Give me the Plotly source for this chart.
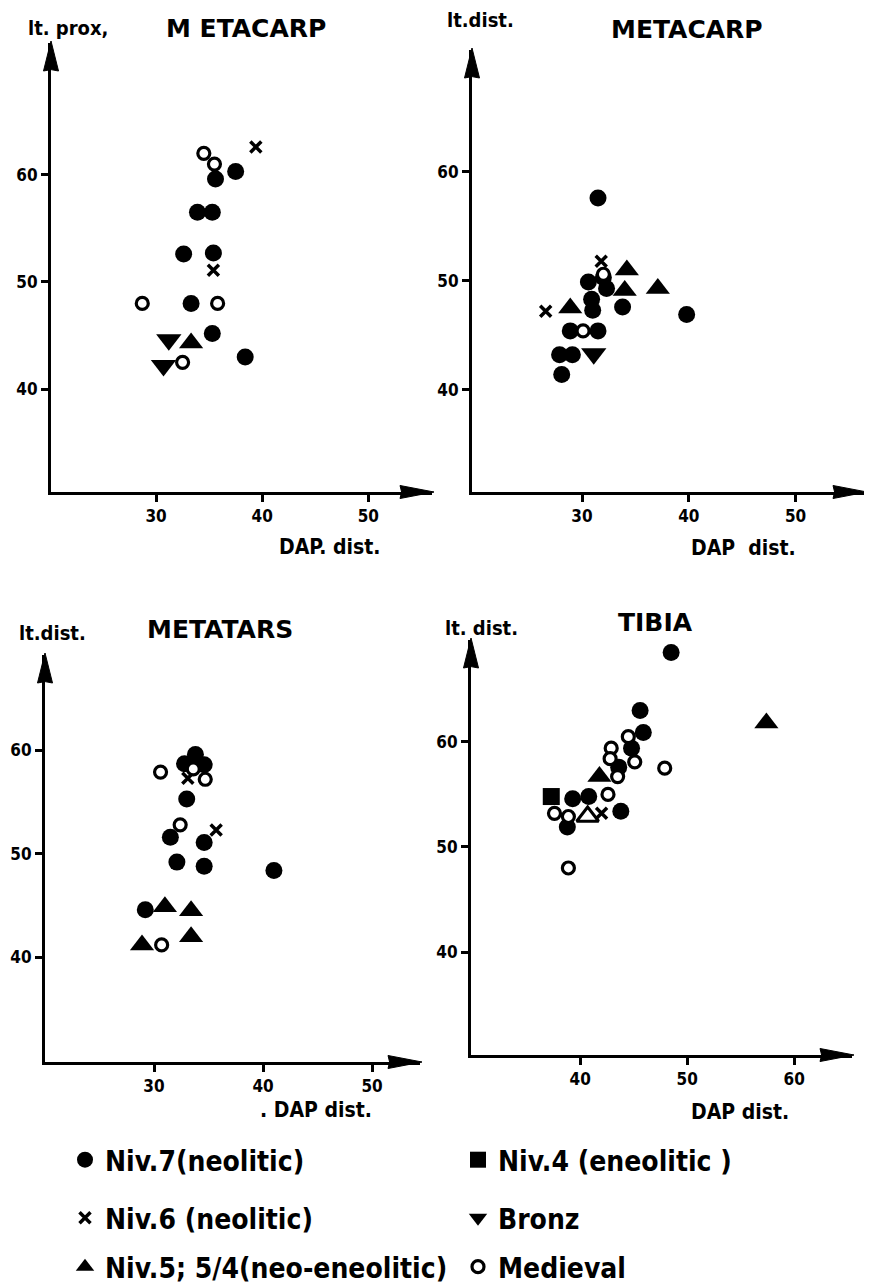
import plotly.graph_objects as go

PAGE_W, PAGE_H = 872, 1286
OFF = 8  # default <body> margin of the written page
W, H = PAGE_W - OFF, PAGE_H - OFF
FONT = "DejaVu Sans"
NARROW = "Liberation Sans Narrow, DejaVu Sans Condensed, DejaVu Sans"

# ---------------- data ----------------
# Panel 1: METACARP, lt. prox. vs DAP dist.
p1_niv7_x = [35.6, 37.5, 33.9, 35.3, 32.6, 35.4, 33.3, 35.3, 38.4]
p1_niv7_y = [59.6, 60.3, 56.5, 56.5, 52.6, 52.7, 48.0, 45.2, 43.0]
p1_niv6_x = [39.4, 35.4]
p1_niv6_y = [62.6, 51.1]
p1_niv5_x = [33.3]
p1_niv5_y = [44.3]
p1_bronz_x = [31.2, 30.7]
p1_bronz_y = [44.6, 42.2]
p1_med_x = [34.5, 35.5, 28.7, 35.8, 32.5]
p1_med_y = [62.0, 61.0, 48.0, 48.0, 42.5]

# Panel 2: METACARP, lt. dist. vs DAP dist.
p2_niv7_x = [31.5, 30.6, 30.9, 31.0, 32.3, 32.0, 33.8, 39.8, 28.9, 31.5, 27.9, 29.1, 28.1]
p2_niv7_y = [57.6, 49.9, 48.3, 47.3, 49.3, 50.3, 47.6, 46.9, 45.4, 45.4, 43.2, 43.2, 41.4]
p2_niv6_x = [31.8, 26.6]
p2_niv6_y = [51.8, 47.2]
p2_niv5_x = [34.2, 34.0, 37.1, 28.9]
p2_niv5_y = [51.0, 49.1, 49.3, 47.5]
p2_bronz_x = [31.1]
p2_bronz_y = [43.3]
p2_med_x = [32.0, 30.1]
p2_med_y = [50.6, 45.4]

# Panel 3: METATARS, lt. dist. vs DAP dist.
p3_niv7_x = [33.8, 32.8, 34.6, 33.0, 31.5, 34.6, 32.1, 34.6, 41.0, 29.2]
p3_niv7_y = [59.6, 58.7, 58.6, 55.3, 51.6, 51.1, 49.2, 48.8, 48.4, 44.6]
p3_niv6_x = [33.1, 35.7]
p3_niv6_y = [57.3, 52.3]
p3_niv5_x = [31.0, 33.4, 33.4, 28.9]
p3_niv5_y = [44.9, 44.5, 42.0, 41.2]
p3_med_x = [30.6, 33.6, 34.7, 32.4, 30.7]
p3_med_y = [57.9, 58.2, 57.2, 52.8, 41.2]

# Panel 4: TIBIA, lt. dist. vs DAP dist.
p4_niv7_x = [48.5, 45.6, 45.9, 44.8, 43.6, 39.3, 40.8, 38.8, 43.8]
p4_niv7_y = [68.5, 63.0, 60.9, 59.4, 57.6, 54.6, 54.8, 51.9, 53.4]
p4_niv6_x = [42.0]
p4_niv6_y = [53.2]
p4_niv5_x = [41.8, 57.4]
p4_niv5_y = [56.7, 61.8]
p4_niv5open_x = [40.7]
p4_niv5open_y = [52.9]
p4_niv4_x = [37.3]
p4_niv4_y = [54.8]
p4_med_x = [44.5, 42.9, 42.8, 45.1, 43.5, 47.9, 42.6, 37.6, 38.9, 38.9]
p4_med_y = [60.5, 59.4, 58.4, 58.1, 56.7, 57.5, 55.0, 53.2, 52.9, 48.0]

titles = ["M ETACARP", "METACARP", "METATARS", "TIBIA"]
ylabels = ["lt. prox,", "lt.dist.", "lt.dist.", "lt. dist."]
xlabels = ["DAP. dist.", "DAP  dist.", ". DAP dist.", "DAP dist."]
xticks = [[30, 40, 50], [30, 40, 50], [30, 40, 50], [40, 50, 60]]
yticks = [40, 50, 60]

group_names = {
    "niv7": "Niv.7(neolitic)",
    "niv6": "Niv.6 (neolitic)",
    "niv5": "Niv.5; 5/4(neo-eneolitic)",
    "niv4": "Niv.4 (eneolitic )",
    "bronz": "Bronz",
    "med": "Medieval",
}
legend_row = {"niv7": "legend", "niv4": "legend", "niv6": "legend2",
              "bronz": "legend2", "niv5": "legend3", "med": "legend3"}

styles = {
    "niv7": dict(symbol="circle", size=17, color="black", line=dict(width=0)),
    "niv6": dict(symbol="x-thin-open", size=11, color="black", line=dict(width=3.5, color="black")),
    "niv5": dict(symbol="triangle-up", size=21, color="black", line=dict(width=0)),
    "niv4": dict(symbol="square", size=17, color="black", line=dict(width=0)),
    "bronz": dict(symbol="triangle-down", size=22, color="black", line=dict(width=0)),
    "med": dict(symbol="circle", size=12, color="white", line=dict(width=3.2, color="black")),
    "niv5open": dict(symbol="triangle-up", size=19, color="white", line=dict(width=3, color="black")),
}

panels = [
    [("niv7", p1_niv7_x, p1_niv7_y), ("niv6", p1_niv6_x, p1_niv6_y), ("niv5", p1_niv5_x, p1_niv5_y),
     ("bronz", p1_bronz_x, p1_bronz_y), ("med", p1_med_x, p1_med_y)],
    [("niv7", p2_niv7_x, p2_niv7_y), ("niv6", p2_niv6_x, p2_niv6_y), ("niv5", p2_niv5_x, p2_niv5_y),
     ("bronz", p2_bronz_x, p2_bronz_y), ("med", p2_med_x, p2_med_y)],
    [("niv7", p3_niv7_x, p3_niv7_y), ("niv6", p3_niv6_x, p3_niv6_y), ("niv5", p3_niv5_x, p3_niv5_y),
     ("med", p3_med_x, p3_med_y)],
    [("niv7", p4_niv7_x, p4_niv7_y), ("niv4", p4_niv4_x, p4_niv4_y), ("niv5", p4_niv5_x, p4_niv5_y),
     ("niv5open", p4_niv5open_x, p4_niv5open_y), ("niv6", p4_niv6_x, p4_niv6_y), ("med", p4_med_x, p4_med_y)],
]

# layout geometry (page pixels): x-axis start/end, y-axis top/bottom and data ranges
geom = [
    dict(px=(51, 432), py=(43, 492), xr=(20.1, 56.0), yr=(30.4, 72.3)),
    dict(px=(472, 865), py=(50, 492), xr=(19.7, 56.5), yr=(30.6, 71.2)),
    dict(px=(45, 420), py=(655, 1062), xr=(20.0, 54.4), yr=(29.9, 69.2)),
    dict(px=(471, 852), py=(640, 1055), xr=(29.8, 65.4), yr=(30.2, 69.7)),
]
title_pos = [(246, 28), (687, 29), (220, 630), (655, 622)]
ylab_pos = [(68, 28), (480, 20), (52, 633), (481, 628)]
xlab_pos = [(330, 547), (743, 548), (316, 1110), (740, 1112)]
legend_rows_y = [1160, 1218, 1267]
legend_x = 65


def fx(p):  # page px -> paper fraction
    return (p - OFF) / W


def fy(p):
    return 1 - (p - OFF) / H


fig = go.Figure()
shown = set()
for i, panel in enumerate(panels):
    sfx = "" if i == 0 else str(i + 1)
    for key, xs, ys in panel:
        st = styles[key]
        show = key in group_names and key not in shown
        if show:
            shown.add(key)
        fig.add_trace(go.Scatter(
            x=xs, y=ys, mode="markers", xaxis="x" + sfx, yaxis="y" + sfx,
            name=group_names.get(key, key), legendgroup=key,
            showlegend=show, legend=legend_row.get(key, "legend"),
            marker=dict(symbol=st["symbol"], size=st["size"], color=st["color"], line=st["line"]),
            cliponaxis=False, hoverinfo="skip"))

layout = dict(width=W, height=H, margin=dict(l=0, r=0, t=0, b=0, autoexpand=False),
              template="none",
              paper_bgcolor="white", plot_bgcolor="white",
              font=dict(family=FONT, color="black"))
annotations = []
shapes = []
for i, g in enumerate(geom):
    sfx = "" if i == 0 else str(i + 1)
    xd = [fx(g["px"][0]), fx(g["px"][1])]
    yd = [fy(g["py"][1]), fy(g["py"][0])]
    pw = g["px"][1] - g["px"][0]
    ph = g["py"][1] - g["py"][0]
    axis_common = dict(showgrid=False, zeroline=False, showline=True, linecolor="black",
                       linewidth=3, ticks="outside", ticklen=7, tickwidth=3, tickcolor="black",
                       tickfont=dict(family=NARROW, size=17, color="black", weight="bold"),
                       automargin=False, fixedrange=True)
    layout["xaxis" + sfx] = dict(axis_common, domain=xd, range=list(g["xr"]),
                                 tickvals=xticks[i], anchor="y" + sfx)
    layout["yaxis" + sfx] = dict(axis_common, domain=yd, range=list(g["yr"]),
                                 tickvals=yticks, anchor="x" + sfx)
    xref = "x" + sfx + " domain"
    yref = "y" + sfx + " domain"
    # long, solid arrowheads at the end of each axis (decoration)
    hx, wx = 32 / pw, 6.5 / ph
    shapes.append(dict(type="path", xref=xref, yref=yref, fillcolor="black",
                       line=dict(width=1, color="black"),
                       path=f"M {1 + 2 / pw},0 L {1 - hx},{wx} L {1 - 0.95 * hx},0 L {1 - hx},{-wx} Z"))
    hy, wy = 28 / ph, 7.5 / pw
    shapes.append(dict(type="path", xref=xref, yref=yref, fillcolor="black",
                       line=dict(width=1, color="black"),
                       path=f"M 0,{1 + 2 / ph} L {wy},{1 - hy} L 0,{1 - 0.95 * hy} L {-wy},{1 - hy} Z"))
    for txt, (px, py), size, fam in [(titles[i], title_pos[i], 25, FONT),
                                     (ylabels[i], ylab_pos[i], 20, NARROW),
                                     (xlabels[i], xlab_pos[i], 21, NARROW)]:
        annotations.append(dict(xref="paper", yref="paper", x=fx(px), y=fy(py),
                                xanchor="center", yanchor="middle", showarrow=False,
                                text=txt, font=dict(family=fam, size=size, color="black",
                                                    weight="bold")))
layout["annotations"] = annotations
layout["shapes"] = shapes

legend_common = dict(orientation="h", xanchor="left", yanchor="middle",
                     entrywidth=348, entrywidthmode="pixels", traceorder="normal",
                     font=dict(family=NARROW, size=28, color="black", weight="bold"),
                     bgcolor="rgba(0,0,0,0)", itemclick=False, itemdoubleclick=False)
for name, ry in zip(["legend", "legend2", "legend3"], legend_rows_y):
    layout[name] = dict(legend_common, x=fx(legend_x), y=fy(ry))

fig.update_layout(**layout)
fig.write_html("out.html")
